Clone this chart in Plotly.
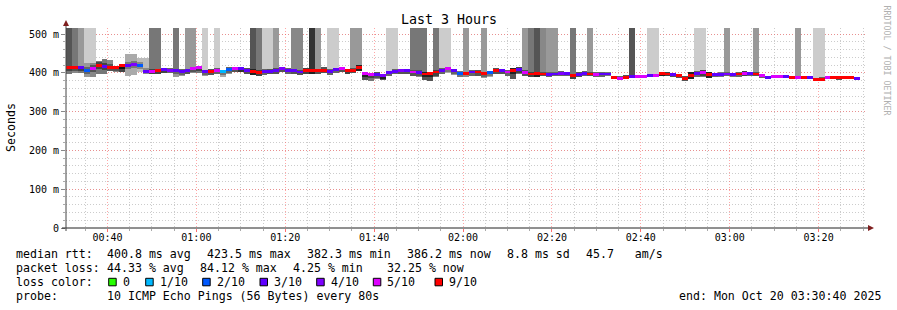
import numpy as np
import pandas as pd
import plotly.graph_objects as go

# ---------------- data ----------------
START = "2025-10-20 00:30:40"
END = "2025-10-20 03:30:40"
STEP_S = 80

median_ms = [414, 414, 413, 407, 411, 420, 416, 413, 413, 419,
             419, 422, 418, 404, 403, 406, 408, 407, 405, 403,
             405, 411, 413, 403, 404, 407, 403, 408, 410, 410,
             406, 404, 401, 403, 403, 407, 410, 406, 405, 402,
             406, 406, 405, 407, 404, 408, 411, 406, 407, 414,
             398, 395, 396, 393, 400, 404, 405, 405, 402, 401,
             397, 398, 402, 407, 410, 406, 399, 398, 402, 402,
             398, 400, 407, 405, 402, 407, 409, 401, 397, 398,
             397, 396, 397, 399, 398, 392, 396, 399, 397, 396,
             397, 397, 388, 386, 389, 390, 390, 390, 392, 392,
             398, 397, 395, 392, 386, 394, 398, 400, 396, 395,
             396, 397, 395, 397, 398, 398, 397, 392, 389, 390,
             390, 390, 387, 388, 388, 389, 383, 383, 388, 388,
             388, 388, 388, 386]

loss_pings = [9, 9, 3, 2, 5, 9, 3, 9, 9, 9,
              3, 4, 2, 3, 5, 9, 3, 4, 3, 3,
              3, 5, 5, 3, 9, 5, 1, 2, 5, 3,
              3, 9, 9, 3, 3, 3, 4, 3, 3, 3,
              9, 9, 9, 9, 3, 3, 5, 9, 9, 9,
              5, 5, 3, 4, 3, 3, 4, 3, 5, 3,
              9, 9, 9, 3, 5, 3, 2, 9, 3, 9,
              9, 2, 9, 3, 5, 9, 3, 5, 9, 9,
              9, 3, 3, 4, 3, 9, 3, 3, 9, 5,
              3, 3, 9, 5, 9, 3, 5, 5, 3, 5,
              9, 9, 3, 9, 9, 9, 3, 5, 9, 3,
              3, 4, 3, 9, 5, 3, 9, 5, 3, 5,
              5, 3, 9, 5, 9, 3, 9, 9, 5, 9,
              9, 9, 9, 3]

smoke_lo_ms = [397, 400, 399, 388, 389, 397, 398, 404, 402, 402,
               392, 394, 402, 396, 396, 397, 400, 400, 389, 392,
               396, 399, 400, 393, 395, 398, 390, 397, 401, 402,
               396, 395, 393, 394, 396, 398, 402, 398, 396, 394,
               398, 398, 397, 399, 395, 400, 403, 398, 400, 404,
               382, 380, 385, 382, 393, 396, 398, 398, 393, 390,
               382, 380, 390, 398, 400, 395, 388, 388, 393, 392,
               386, 390, 398, 396, 393, 385, 396, 393, 390, 390,
               391, 390, 391, 393, 392, 383, 390, 393, 392, 390,
               390, 391, 384, 382, 384, 386, 386, 386, 388, 388,
               392, 391, 390, 387, 380, 384, 388, 390, 386, 388,
               390, 391, 389, 390, 391, 392, 391, 387, 385, 386,
               386, 386, 383, 384, 384, 385, 379, 380, 383, 383,
               382, 383, 383, 383]

smoke_hi_ms = [418, 418, 418, 425, 425, 431, 435, 433, 418, 423,
               448, 448, 437, 437, 410, 410, 412, 412, 410, 409,
               410, 416, 418, 408, 410, 412, 408, 414, 415, 414,
               412, 409, 407, 409, 410, 412, 416, 412, 410, 407,
               412, 411, 410, 414, 410, 413, 416, 411, 413, 419,
               402, 400, 401, 398, 405, 410, 410, 410, 407, 406,
               402, 403, 407, 412, 415, 411, 405, 403, 407, 407,
               403, 405, 412, 411, 408, 412, 414, 406, 402, 403,
               402, 401, 402, 404, 403, 397, 401, 404, 402, 401,
               402, 402, 393, 391, 394, 395, 395, 395, 397, 397,
               403, 402, 400, 397, 391, 402, 404, 406, 403, 400,
               401, 402, 400, 402, 404, 403, 402, 397, 393, 394,
               394, 394, 391, 392, 392, 393, 387, 388, 392, 392,
               391, 392, 392, 390]

smoke_grey = [0x77, 0x88, 0x77, 0x99, 0x88, 0x77, 0x77, 0x88, 0x88, 0x44,
              0xaa, 0xaa, 0xbb, 0xbb, 0x77, 0x77, 0x77, 0x99, 0x99, 0x99,
              0x88, 0x88, 0x77, 0x99, 0x88, 0x99, 0xaa, 0x99, 0x88, 0x66,
              0x88, 0x55, 0x77, 0x99, 0x88, 0x88, 0x88, 0x99, 0x88, 0x88,
              0x77, 0x55, 0x88, 0x88, 0x99, 0x99, 0x88, 0x77, 0x88, 0x55,
              0x55, 0x77, 0x88, 0x55, 0x99, 0x99, 0x88, 0x88, 0x88, 0x88,
              0x55, 0x55, 0x77, 0x99, 0xaa, 0x99, 0xaa, 0xbb, 0x99, 0x88,
              0x99, 0xaa, 0x88, 0x88, 0x99, 0x55, 0x77, 0x88, 0x77, 0x55,
              0x88, 0x99, 0x99, 0x99, 0x99, 0x77, 0x88, 0x99, 0x88, 0x99,
              0x99, 0xaa, 0x88, 0x99, 0x88, 0x55, 0x99, 0x99, 0x99, 0x99,
              0x55, 0x77, 0x88, 0x88, 0x88, 0x55, 0x99, 0x77, 0x55, 0x99,
              0xaa, 0x99, 0xaa, 0x99, 0x77, 0x99, 0x88, 0x99, 0x99, 0x99,
              0x99, 0x99, 0x99, 0x99, 0x99, 0x99, 0x77, 0x99, 0x99, 0x99,
              0x88, 0x88, 0x99, 0xaa]

# grey level of pings beyond the top of the graph (0 = none)
spike_grey = [0x55, 0x77, 0x99, 0xcc, 0xcc, 0, 0, 0, 0, 0,
              0, 0, 0, 0, 0x77, 0x77, 0, 0, 0x77, 0,
              0x99, 0x99, 0, 0xcc, 0, 0xcc, 0, 0, 0, 0,
              0, 0x55, 0x77, 0xcc, 0xcc, 0x99, 0, 0, 0x88, 0x88,
              0, 0x33, 0x99, 0, 0xcc, 0xcc, 0, 0, 0x99, 0x99,
              0, 0, 0, 0, 0xcc, 0xcc, 0, 0, 0x77, 0x77,
              0x77, 0, 0x77, 0xcc, 0xcc, 0, 0, 0x99, 0, 0,
              0x99, 0, 0, 0, 0, 0, 0, 0x99, 0x77, 0x55,
              0x88, 0x99, 0x99, 0, 0, 0x77, 0, 0, 0x99, 0,
              0, 0, 0, 0, 0, 0x55, 0, 0, 0xcc, 0xcc,
              0, 0, 0, 0, 0, 0, 0xcc, 0xcc, 0, 0,
              0, 0x99, 0, 0, 0, 0, 0x99, 0, 0, 0,
              0, 0, 0, 0x99, 0, 0, 0xcc, 0xcc, 0, 0,
              0, 0, 0, 0]

loss_levels = [0, 1, 2, 3, 4, 5, 9]
loss_labels = ["0", "1/10", "2/10", "3/10", "4/10", "5/10", "9/10"]
loss_colors = ["#26ff00", "#00b8ff", "#0059ff", "#5e00ff", "#7e00ff", "#dd00ff", "#ff0000"]

y_tick_vals = [0, 100, 200, 300, 400, 500]
y_tick_text = ["0", "100 m", "200 m", "300 m", "400 m", "500 m"]

title_text = "Last 3 Hours"
y_title = "Seconds"
rtt_label = "median rtt:"
rtt_stats = ["400.8 ms avg", "423.5 ms max", "382.3 ms min", "386.2 ms now", "8.8 ms sd", "45.7   am/s"]
loss_label = "packet loss:"
loss_stats = ["44.33 % avg", "84.12 % max", "4.25 % min", "32.25 % now"]
color_label = "loss color:"
probe_label = "probe:"
probe_text = "10 ICMP Echo Pings (56 Bytes) every 80s"
end_text = "end: Mon Oct 20 03:30:40 2025"
watermark = "RRDTOOL / TOBI OETIKER"

# ---------------- derived ----------------
n = len(median_ms)
med = np.array(median_ms, float)
lo = np.array(smoke_lo_ms, float)
hi = np.array(smoke_hi_ms, float)
t0 = pd.Timestamp(START)
xs = t0 + pd.to_timedelta(STEP_S * (np.arange(n) + 0.5), unit="s")
W = STEP_S * 1000
Y_TOP = 515.5


def grey(g):
    return "#%02x%02x%02x" % (g, g, g)


def loss_color(p):
    c = loss_colors[0]
    for lv, col in zip(loss_levels, loss_colors):
        if p >= lv:
            c = col
    return c


fig = go.Figure()
# outer smoke
fig.add_trace(go.Bar(x=xs, base=lo, y=hi - lo, width=W,
                     marker=dict(color=[grey(g) for g in smoke_grey], line=dict(width=0)),
                     hoverinfo="skip", showlegend=False))
# inner (denser) smoke around the median
core_lo = np.maximum(lo, med - 9)
core_hi = np.minimum(hi, med + 9)
fig.add_trace(go.Bar(x=xs, base=core_lo, y=core_hi - core_lo, width=W,
                     marker=dict(color=[grey(max(0, g - 0x33)) for g in smoke_grey], line=dict(width=0)),
                     hoverinfo="skip", showlegend=False))
# pings above the graph top
sp_idx = [i for i in range(n) if spike_grey[i] > 0]
fig.add_trace(go.Bar(x=xs[sp_idx], base=hi[sp_idx], y=[600 - hi[i] for i in sp_idx], width=W,
                     marker=dict(color=[grey(spike_grey[i]) for i in sp_idx], line=dict(width=0)),
                     hoverinfo="skip", showlegend=False))
# median coloured by loss
MH = 7.5
fig.add_trace(go.Bar(x=xs, base=med - MH / 2, y=[MH] * n, width=W,
                     marker=dict(color=[loss_color(p) for p in loss_pings], line=dict(width=0)),
                     hoverinfo="skip", showlegend=False))

L, R, T, B = 66, 31, 28, 82
PW, PH = 897 - L - R, 310 - T - B


def px(xp):
    return (xp - L) / PW


def py(yp):
    return (T + PH - yp) / PH


MONO = "DejaVu Sans Mono"
minor_grid = "rgba(170,170,170,0.6)"
major_grid = "rgba(255,95,95,0.55)"

fig.update_layout(
    width=897, height=310,
    margin=dict(l=L, r=R, t=T, b=B, pad=0),
    paper_bgcolor="white", plot_bgcolor="white",
    barmode="overlay", bargap=0,
    showlegend=False,
    font=dict(family=MONO, size=10, color="black"),
    xaxis=dict(
        type="date", range=[START, END],
        tick0="2025-10-20 00:40:00", dtick=20 * 60 * 1000,
        tickformat="%H:%M",
        showgrid=True, gridcolor=major_grid, griddash="1px,2px", gridwidth=1,
        ticks="outside", ticklen=3, tickcolor="rgba(255,95,95,0.9)",
        ticklabelstandoff=-3,
        minor=dict(tick0="2025-10-20 00:40:00", dtick=5 * 60 * 1000, showgrid=True,
                   gridcolor=minor_grid, griddash="1px,2px", ticks="outside", ticklen=2,
                   tickcolor="#aaaaaa"),
        showline=False, zeroline=False,
        tickfont=dict(family=MONO, size=10, color="black"),
    ),
    yaxis=dict(
        range=[0, Y_TOP], tickmode="array", tickvals=y_tick_vals, ticktext=y_tick_text,
        showgrid=True, gridcolor=major_grid, griddash="1px,2px",
        ticks="outside", ticklen=4, tickcolor="#888888",
        minor=dict(tickmode="linear", tick0=0, dtick=20, showgrid=True, gridcolor=minor_grid,
                   griddash="1px,2px", ticks="outside", ticklen=2, tickcolor="#aaaaaa"),
        showline=False, zeroline=False,
        tickfont=dict(family=MONO, size=10, color="black"),
    ),
)

shapes = []
# axes with arrows
shapes.append(dict(type="line", xref="paper", yref="paper", x0=px(62), x1=px(869), y0=py(228), y1=py(228),
                   line=dict(color="#222222", width=1), layer="above"))
shapes.append(dict(type="line", xref="paper", yref="paper", x0=px(66), x1=px(66), y0=py(231), y1=py(25),
                   line=dict(color="#444444", width=1), layer="above"))
shapes.append(dict(type="path", xref="paper", yref="paper",
                   path="M %f,%f L %f,%f L %f,%f Z" % (px(66), py(20), px(63), py(26), px(69), py(26)),
                   fillcolor="#7f1f1f", line=dict(width=0), layer="above"))
shapes.append(dict(type="path", xref="paper", yref="paper",
                   path="M %f,%f L %f,%f L %f,%f Z" % (px(874), py(228), px(868), py(225), px(868), py(231)),
                   fillcolor="#7f1f1f", line=dict(width=0), layer="above"))

annotations = []


def text(s, xp, yp, size=11.6, anchor="left", color="black", angle=0, yanchor="middle"):
    annotations.append(dict(text=s, x=px(xp), y=py(yp), xref="paper", yref="paper",
                            xanchor=anchor, yanchor=yanchor, showarrow=False, textangle=angle,
                            borderpad=0, borderwidth=0,
                            font=dict(family=MONO, size=size, color=color)))


text(title_text, 448.5, 20, size=13.3, anchor="center")
text(y_title, 11, 127, size=11.6, anchor="center", angle=-90)
text(watermark, 886.5, 60, size=8.3, anchor="center", angle=90, color="#b0b0b0")

LEFT = 16
text(rtt_label, LEFT, 254.3)
for s, xp in zip(rtt_stats, [107.3, 207.3, 307.3, 407.3, 507.3, 586]):
    text(s, xp, 254.3)
text(loss_label, LEFT, 268.3)
for s, xp in zip(loss_stats, [107.3, 200, 293.3, 386.7]):
    text(s, xp, 268.3)
text(color_label, LEFT, 282.3)
box_x = [108.7, 145.7, 202.7, 260, 316.7, 373.3, 435]
for lab, col, bx in zip(loss_labels, loss_colors, box_x):
    shapes.append(dict(type="rect", xref="paper", yref="paper", x0=px(bx), x1=px(bx + 7.5),
                       y0=py(285.8), y1=py(278.3), fillcolor=col, line=dict(color="black", width=1)))
    text(lab, bx + 14, 282.3)
text(probe_label, LEFT, 296.3)
text(probe_text, 107.3, 296.3)
text(end_text, 881, 296.3, anchor="right")

fig.update_layout(shapes=shapes, annotations=annotations)
fig.write_html("out.html")
